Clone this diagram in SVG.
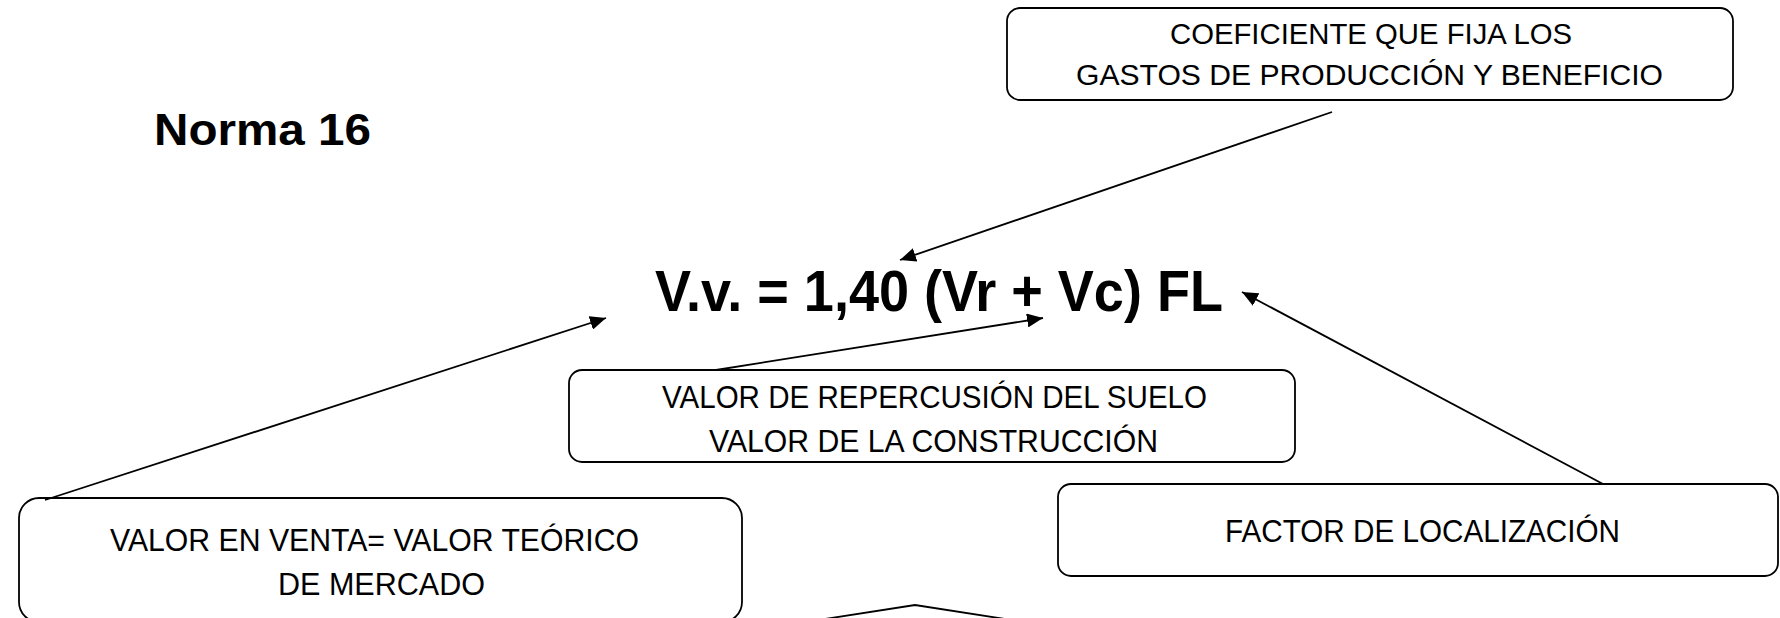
<svg xmlns="http://www.w3.org/2000/svg" width="1780" height="618" viewBox="0 0 1780 618">
<defs>
<marker id="ah" markerUnits="userSpaceOnUse" markerWidth="18" markerHeight="14" refX="16" refY="7" orient="auto">
<path d="M0,0 L16,7 L0,14 Z" fill="#000"/>
</marker>
<style>
.box{fill:#fff;stroke:#000;stroke-width:1.8}
.t{font-family:"Liberation Sans",Arial,sans-serif;font-size:31px;fill:#000;text-anchor:start}
.s{font-size:29.5px}
.b{font-family:"Liberation Sans",Arial,sans-serif;font-weight:bold;fill:#000}
.c{fill:none;stroke:#000;stroke-width:1.8}
</style>
</defs>
<rect width="1780" height="618" fill="#fff"/>
<g id="title"><text class="b" x="154" y="145" font-size="45" textLength="217" lengthAdjust="spacingAndGlyphs">Norma 16</text></g>
<g id="formula"><text class="b" x="655" y="311" font-size="57" textLength="568" lengthAdjust="spacingAndGlyphs">V.v. = 1,40 (Vr + Vc) FL</text></g>
<g id="coef">
<rect class="box" x="1007" y="8" width="726" height="92" rx="13"/>
<text class="t s" x="1170" y="44" textLength="402" lengthAdjust="spacingAndGlyphs">COEFICIENTE QUE FIJA LOS</text>
<text class="t s" x="1076" y="85" textLength="587" lengthAdjust="spacingAndGlyphs">GASTOS DE PRODUCCIÓN Y BENEFICIO</text>
</g>
<g id="valores">
<rect class="box" x="569" y="370" width="726" height="92" rx="13"/>
<text class="t" x="662" y="408" textLength="545" lengthAdjust="spacingAndGlyphs">VALOR DE REPERCUSIÓN DEL SUELO</text>
<text class="t" x="709" y="452" textLength="449" lengthAdjust="spacingAndGlyphs">VALOR DE LA CONSTRUCCIÓN</text>
</g>
<g id="venta">
<rect class="box" x="19" y="498" width="723" height="124" rx="20"/>
<text class="t" x="110" y="551" textLength="529" lengthAdjust="spacingAndGlyphs">VALOR EN VENTA= VALOR TEÓRICO</text>
<text class="t" x="278" y="595" textLength="207" lengthAdjust="spacingAndGlyphs">DE MERCADO</text>
</g>
<g id="factor">
<rect class="box" x="1058" y="484" width="720" height="92" rx="13"/>
<text class="t" x="1225" y="542" textLength="395" lengthAdjust="spacingAndGlyphs">FACTOR DE LOCALIZACIÓN</text>
</g>
<g id="connectors">
<line class="c" x1="1332" y1="112" x2="900" y2="260" marker-end="url(#ah)"/>
<line class="c" x1="45" y1="500" x2="606" y2="318" marker-end="url(#ah)"/>
<line class="c" x1="716" y1="370" x2="1043" y2="318" marker-end="url(#ah)"/>
<line class="c" x1="1603" y1="484" x2="1242" y2="292" marker-end="url(#ah)"/>
<polyline class="c" points="825,619 915,605 1005,619"/>
</g>
</svg>
